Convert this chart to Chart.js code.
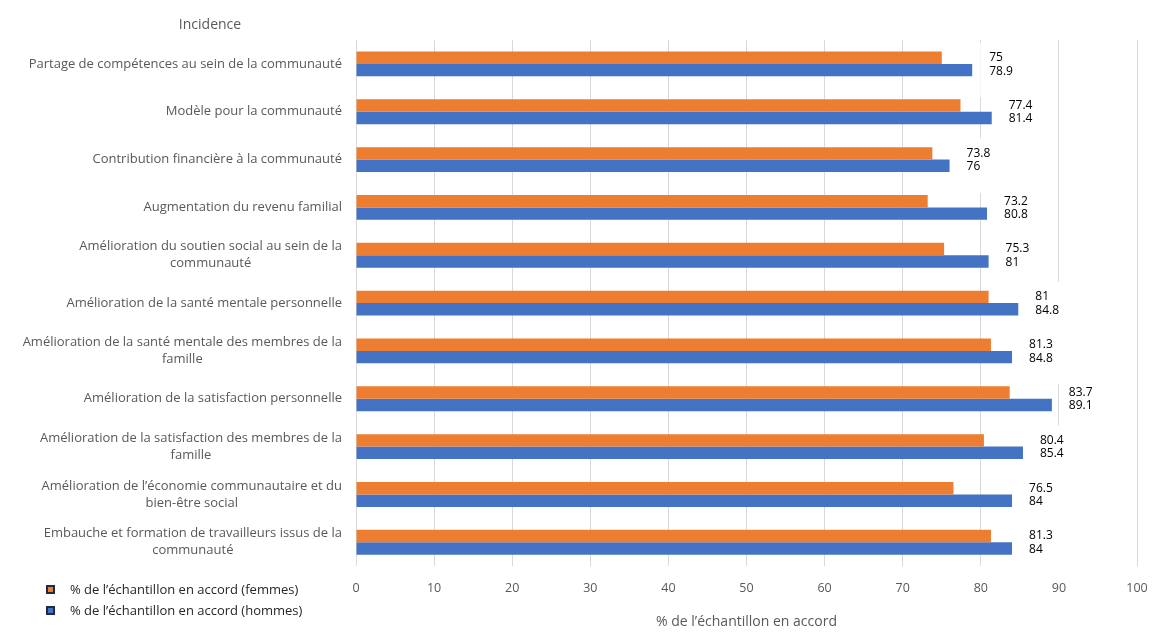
<!DOCTYPE html>
<html lang="fr">
<head>
<meta charset="utf-8">
<script src="https://cdn.jsdelivr.net/npm/chart.js@4.4.1/dist/chart.umd.min.js"></script>
<style>
  html, body { margin: 0; padding: 0; background: #fff; }
</style>
</head>
<body>
<canvas id="chart" width="1164" height="638"></canvas>
<script>
// categories, top to bottom (line breaks as in the original)
const categories = [
  ['Partage de compétences au sein de la communauté'],
  ['Modèle pour la communauté'],
  ['Contribution financière à la communauté'],
  ['Augmentation du revenu familial'],
  ['Amélioration du soutien social au sein de la', 'communauté'],
  ['Amélioration de la santé mentale personnelle'],
  ['Amélioration de la santé mentale des membres de la', 'famille'],
  ['Amélioration de la satisfaction personnelle'],
  ['Amélioration de la satisfaction des membres de la', 'famille'],
  ['Amélioration de l’économie communautaire et du', 'bien-être social'],
  ['Embauche et formation de travailleurs issus de la', 'communauté']
];
const femmes = [75, 77.4, 73.8, 73.2, 75.3, 81, 81.3, 83.7, 80.4, 76.5, 81.3];
const hommes = [78.9, 81.4, 76, 80.8, 81, 84.8, 84, 89.1, 85.4, 84, 84];
// value labels as printed next to the bars
const femmesLabels = ['75', '77.4', '73.8', '73.2', '75.3', '81', '81.3', '83.7', '80.4', '76.5', '81.3'];
const hommesLabels = ['78.9', '81.4', '76', '80.8', '81', '84.8', '84.8', '89.1', '85.4', '84', '84'];
const xTicks = [0, 10, 20, 30, 40, 50, 60, 70, 80, 90, 100];

const seriesNames = ['% de l’échantillon en accord (femmes)', '% de l’échantillon en accord (hommes)'];
const titleText = 'Incidence';
const axisTitle = '% de l’échantillon en accord';

const FONT = '"Open Sans", sans-serif';
const GREY = '#595959';

const decor = {
  id: 'decor',
  beforeDatasetsDraw(chart) {
    // white label boxes, they hide the gridlines like in the original
    const ctx = chart.ctx;
    const f = chart.getDatasetMeta(0).data;
    const h = chart.getDatasetMeta(1).data;
    ctx.save();
    ctx.font = '12px ' + FONT;
    ctx.fillStyle = '#ffffff';
    h.forEach((bar, i) => {
      const x = bar.x + 17;
      const w = Math.max(ctx.measureText(femmesLabels[i]).width, ctx.measureText(hommesLabels[i]).width);
      ctx.fillRect(x - 9, f[i].y - 15, w + 18, h[i].y - f[i].y + 42);
    });
    ctx.restore();
  },
  afterDatasetsDraw(chart) {
    const ctx = chart.ctx;
    const f = chart.getDatasetMeta(0).data;
    const h = chart.getDatasetMeta(1).data;
    ctx.save();
    ctx.font = '12px ' + FONT;
    ctx.fillStyle = '#000000';
    ctx.textAlign = 'left';
    ctx.textBaseline = 'middle';
    h.forEach((bar, i) => {
      const x = bar.x + 17;
      ctx.fillText(femmesLabels[i], x, f[i].y);
      ctx.fillText(hommesLabels[i], x, h[i].y + 1);
    });
    ctx.restore();
  },
  afterDraw(chart) {
    const ctx = chart.ctx;
    const area = chart.chartArea;
    const yScale = chart.scales.y;
    ctx.save();
    // category labels: block right-aligned, lines centred inside the block
    ctx.font = '13px ' + FONT;
    ctx.fillStyle = GREY;
    ctx.textAlign = 'center';
    ctx.textBaseline = 'middle';
    const right = area.left - 14;
    const lh = 17;
    categories.forEach((lines, i) => {
      const y = yScale.getPixelForValue(i);
      const w = Math.max(...lines.map(l => ctx.measureText(l).width));
      const cx = right - w / 2;
      lines.forEach((l, k) => {
        ctx.fillText(l, cx, y + (k - (lines.length - 1) / 2) * lh);
      });
    });

    // title above the category labels
    ctx.font = '14px ' + FONT;
    ctx.fillText(titleText, 210, 25);

    // legend bottom left
    ctx.font = '13px ' + FONT;
    ctx.textAlign = 'left';
    chart.data.datasets.forEach((ds, i) => {
      const y = 590 + i * 21;
      ctx.fillStyle = '#1f2a44';
      ctx.fillRect(46, y - 5, 9, 9);
      ctx.fillStyle = ds.backgroundColor;
      ctx.fillRect(48, y - 3, 5, 5);
      ctx.fillStyle = '#262626';
      ctx.fillText(ds.label, 70, y);
    });
    ctx.restore();
  }
};

new Chart(document.getElementById('chart'), {
  type: 'bar',
  data: {
    labels: categories.map(c => c.join(' ')),
    datasets: [
      { label: seriesNames[0], data: femmes, backgroundColor: '#ED7D31' },
      { label: seriesNames[1], data: hommes, backgroundColor: '#4472C4' }
    ]
  },
  options: {
    indexAxis: 'y',
    responsive: false,
    animation: false,
    layout: { padding: { left: 356, top: 40, right: 27, bottom: 8 } },
    datasets: { bar: { categoryPercentage: 0.52, barPercentage: 1 } },
    scales: {
      x: {
        min: 0,
        max: 100,
        afterBuildTicks: axis => { axis.ticks = xTicks.map(v => ({ value: v })); },
        ticks: { color: GREY, font: { family: FONT, size: 12.5 }, padding: 15 },
        grid: { color: '#d9d9d9', drawTicks: false },
        border: { display: false },
        title: {
          display: true,
          text: axisTitle,
          color: GREY,
          font: { family: FONT, size: 14 },
          padding: { top: 2, bottom: 0 }
        }
      },
      y: {
        ticks: { display: false },
        grid: { display: false, drawTicks: false },
        border: { display: false }
      }
    },
    plugins: {
      legend: { display: false },
      tooltip: { enabled: false }
    }
  },
  plugins: [decor]
});
</script>
</body>
</html>
